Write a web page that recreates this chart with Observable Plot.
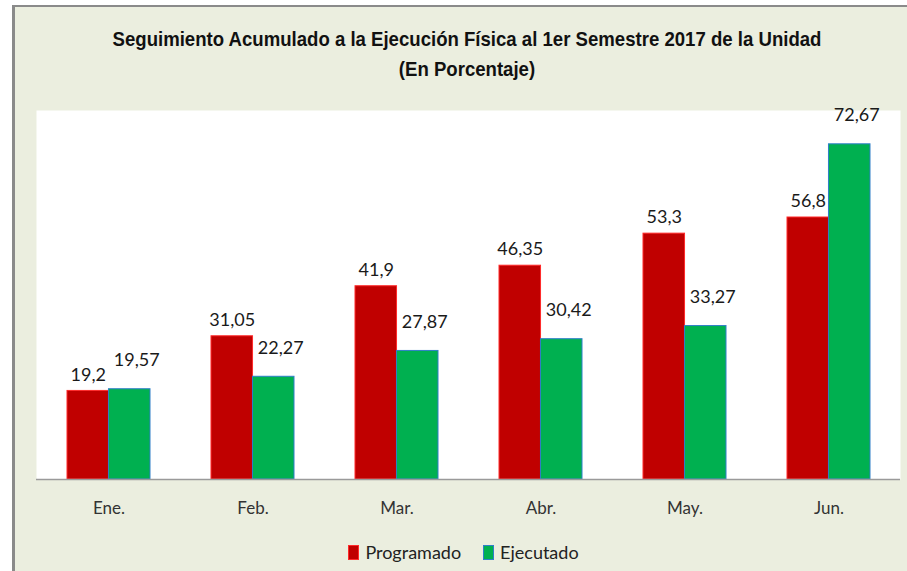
<!DOCTYPE html>
<html>
<head>
<meta charset="utf-8">
<script src="https://cdn.jsdelivr.net/npm/d3@7"></script>
<script src="https://cdn.jsdelivr.net/npm/@observablehq/plot@0.6"></script>
<style>
  html, body { margin: 0; padding: 0; background: #ffffff; width: 907px; height: 571px; overflow: hidden; }
  #frame { position: absolute; left: 12px; top: 5px; width: 905px; height: 580px;
           background: #ebeedf; border-left: 3px solid #8a8a8a; border-top: 2px solid #8a8a8a; }
  #title { position: absolute; left: 0; top: 24px; width: 934px; text-align: center;
           font-family: "Liberation Sans", Arial, sans-serif;
           font-weight: bold; font-size: 21px; line-height: 30px; color: #111;
           transform: scaleX(0.885); transform-origin: 467px 0; }
  #chart { position: absolute; left: 0; top: 95px; }
  #legend { position: absolute; left: 0; top: 541px; width: 907px; display: flex; justify-content: center;
            gap: 22px; font-family: Lato, "Open Sans", sans-serif; font-size: 18px; color: #222; padding-left: 20px; box-sizing: border-box; }
  .item { display: flex; align-items: center; gap: 6px; }
  .sw { width: 11px; height: 15px; display: inline-block; box-sizing: border-box; }
</style>
</head>
<body>
<div id="frame"></div>
<div id="title"></div>
<div id="chart"></div>
<div id="legend"></div>
<script>
const titleLines = ["Seguimiento Acumulado a la Ejecución Física al 1er Semestre 2017 de la Unidad", "(En Porcentaje)"];
const months = ["Ene.", "Feb.", "Mar.", "Abr.", "May.", "Jun."];
const seriesNames = ["Programado", "Ejecutado"];
const programado = [19.2, 31.05, 41.9, 46.35, 53.3, 56.8];
const ejecutado = [19.57, 22.27, 27.87, 30.42, 33.27, 72.67];
const fills = ["#c00000", "#00b050"];
const strokes = ["#ff2a2a", "#2f7fc8"];

document.getElementById("title").innerHTML = titleLines.map(t => `<div>${t}</div>`).join("");

const prog = months.map((m, i) => ({month: m, value: programado[i]}));
const ejec = months.map((m, i) => ({month: m, value: ejecutado[i]}));
const fmt = v => String(v).replace(".", ",");

const W = 907, mL = 36, mR = 7;
const padIn = 0.424, padOut = padIn / 2;
const step = (W - mL - mR) / (months.length - padIn + 2 * padOut);
const half = step * (1 - padIn) / 2;

const chart = Plot.plot({
  width: W,
  height: 435,
  marginLeft: mL,
  marginRight: mR,
  marginTop: 15,
  marginBottom: 51,
  style: {background: "transparent", fontFamily: "Lato, 'Open Sans', sans-serif"},
  x: {domain: months, paddingInner: padIn, paddingOuter: padOut, label: null},
  y: {domain: [0, 80], axis: null},
  marks: [
    Plot.frame({fill: "white", stroke: null}),
    Plot.barY(prog, {x: "month", y: "value", fill: fills[0], stroke: strokes[0], strokeWidth: 1, insetRight: half}),
    Plot.barY(ejec, {x: "month", y: "value", fill: fills[1], stroke: strokes[1], strokeWidth: 1, insetLeft: half}),
    Plot.ruleY([0], {stroke: "#9a9a9a", strokeWidth: 1.5}),
    Plot.text(prog, {x: "month", y: "value", text: d => fmt(d.value), dx: -half / 2, dy: -16, fontSize: 18, fill: "#1a1a1a"}),
    Plot.text(ejec, {x: "month", y: "value", text: d => fmt(d.value), dx: half / 2 + 7, dy: -29, fontSize: 18, fill: "#1a1a1a"}),
    Plot.axisX({tickSize: 0, tickPadding: 22, fontSize: 17, fill: "#333", label: null})
  ]
});
document.getElementById("chart").appendChild(chart);

document.getElementById("legend").innerHTML = seriesNames.map((s, i) =>
  `<span class="item"><span class="sw" style="background:${fills[i]};border:1px solid ${strokes[i]}"></span>${s}</span>`).join("");
</script>
</body>
</html>
